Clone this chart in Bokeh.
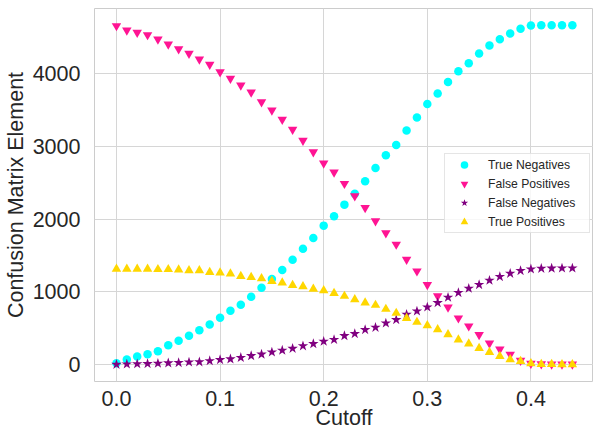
from bokeh.plotting import figure
from bokeh.models import Range1d, FixedTicker, PrintfTickFormatter, Legend, LegendItem, ColumnDataSource
from bokeh.embed import file_html
from bokeh.resources import INLINE

# Probability cutoff values
cutoff = [0.00, 0.01, 0.02, 0.03, 0.04, 0.05, 0.06, 0.07, 0.08, 0.09,
          0.10, 0.11, 0.12, 0.13, 0.14, 0.15, 0.16, 0.17, 0.18, 0.19,
          0.20, 0.21, 0.22, 0.23, 0.24, 0.25, 0.26, 0.27, 0.28, 0.29,
          0.30, 0.31, 0.32, 0.33, 0.34, 0.35, 0.36, 0.37, 0.38, 0.39,
          0.40, 0.41, 0.42, 0.43, 0.44]

true_negatives = [18, 69, 110, 142, 183, 266, 326, 395, 472, 551,
                  643, 740, 822, 932, 1056, 1175, 1299, 1442, 1594, 1740,
                  1911, 2039, 2200, 2348, 2521, 2704, 2879, 3021, 3219, 3398,
                  3585, 3729, 3888, 4036, 4146, 4280, 4390, 4477, 4555, 4619,
                  4665, 4669, 4669, 4669, 4669]

false_positives = [4660, 4601, 4569, 4536, 4477, 4408, 4343, 4280, 4201, 4128,
                   4026, 3935, 3843, 3747, 3613, 3499, 3371, 3233, 3082, 2925,
                   2769, 2645, 2489, 2318, 2158, 1974, 1808, 1653, 1446, 1285,
                   1098, 941, 789, 638, 528, 409, 293, 211, 138, 55,
                   14, 6, 4, 3, 3]

false_negatives = [0, 5, 8, 10, 15, 20, 25, 32, 35, 50,
                   65, 75, 95, 120, 140, 170, 195, 220, 255, 285,
                   318, 342, 395, 423, 478, 510, 569, 616, 689, 734,
                   789, 850, 923, 988, 1047, 1098, 1157, 1208, 1253, 1291,
                   1313, 1322, 1324, 1326, 1326]

true_positives = [1313, 1313, 1313, 1313, 1309, 1309, 1304, 1295, 1295, 1271,
                  1263, 1249, 1216, 1202, 1185, 1147, 1125, 1092, 1072, 1040,
                  1019, 980, 941, 895, 850, 817, 762, 707, 638, 583,
                  537, 482, 413, 340, 285, 225, 169, 114, 69, 45,
                  14, 3, 2, 1, 0]

x_ticks = [0.0, 0.1, 0.2, 0.3, 0.4]
y_ticks = [0, 1000, 2000, 3000, 4000]

source = ColumnDataSource(dict(cutoff=cutoff, tn=true_negatives, fp=false_positives,
                               fn=false_negatives, tp=true_positives))

FONT = "Liberation Sans"
TEXT = "#262626"
GRID = "#d6d6d6"

p = figure(width=593, height=432, output_backend="svg", toolbar_location=None,
           x_range=Range1d(-0.0212, 0.4604), y_range=Range1d(-234, 4899),
           min_border_left=94, min_border_bottom=51, min_border_top=8, min_border_right=0)

p.outline_line_color = "#cccccc"
p.outline_line_width = 1
p.background_fill_color = "white"
p.border_fill_color = "white"

for ax in (p.xaxis[0], p.yaxis[0]):
    ax.axis_line_color = None
    ax.major_tick_line_color = None
    ax.minor_tick_line_color = None
    ax.major_label_text_font = FONT
    ax.major_label_text_font_size = "21.5px"
    ax.major_label_text_color = TEXT
    ax.axis_label_text_font = FONT
    ax.axis_label_text_font_size = "21.5px"
    ax.axis_label_text_font_style = "normal"
    ax.axis_label_text_color = TEXT

p.xaxis.ticker = FixedTicker(ticks=x_ticks)
p.xaxis.formatter = PrintfTickFormatter(format="%.1f")
p.xaxis.major_label_standoff = 3
p.xaxis.axis_label = "Cutoff"
p.xaxis.axis_label_standoff = -3

p.yaxis.ticker = FixedTicker(ticks=y_ticks)
p.yaxis.formatter = PrintfTickFormatter(format="%d")
p.yaxis.major_label_standoff = 8
p.yaxis.axis_label = "Confusion Matrix Element"
p.yaxis.axis_label_standoff = 2

p.xgrid.ticker = FixedTicker(ticks=x_ticks)
p.ygrid.ticker = FixedTicker(ticks=y_ticks)
p.grid.grid_line_color = GRID
p.grid.grid_line_width = 1

r_tn = p.scatter("cutoff", "tn", source=source, marker="circle", size=8.5,
                 fill_color="#00FFFF", line_color=None)
r_fp = p.scatter("cutoff", "fp", source=source, marker="inverted_triangle", size=9.5,
                 fill_color="#FF1493", line_color=None)
r_fn = p.scatter("cutoff", "fn", source=source, marker="star", size=11,
                 fill_color="#800080", line_color=None)
r_tp = p.scatter("cutoff", "tp", source=source, marker="triangle", size=9.5,
                 fill_color="#FFD700", line_color=None)

legend = Legend(items=[LegendItem(label="True Negatives", renderers=[r_tn]),
                       LegendItem(label="False Positives", renderers=[r_fp]),
                       LegendItem(label="False Negatives", renderers=[r_fn]),
                       LegendItem(label="True Positives", renderers=[r_tp])],
                location=(350, 148))
legend.label_text_font = FONT
legend.label_text_font_size = "12.2px"
legend.label_text_color = TEXT
legend.glyph_width = 36
legend.glyph_height = 19
legend.label_height = 19
legend.label_width = 100
legend.spacing = 0
legend.padding = 1
legend.label_standoff = 6
legend.border_line_color = "#cccccc"
legend.background_fill_alpha = 0.8
p.add_layout(legend)

open("out.html", "w").write(file_html(p, INLINE))
